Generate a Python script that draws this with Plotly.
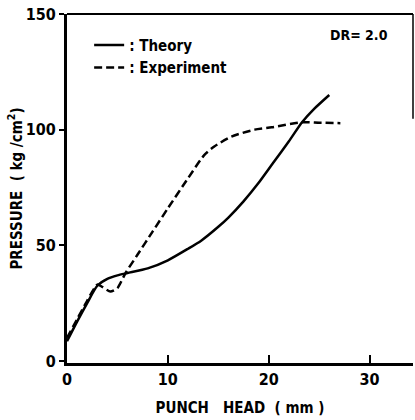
import plotly.graph_objects as go

# Theory (solid)
theory_x = [0, 1, 2, 3, 4, 5, 6, 8, 10, 12, 13.3, 15, 16, 17.5, 19, 20.5, 22, 23.3, 24.5, 26]
theory_y = [8.5, 17, 25, 32.5, 35.5, 37, 38, 40, 43.5, 48.5, 52, 58, 62, 69, 77, 86, 95, 103.2, 109, 115]

# Experiment (dashed)
exp_x = [0, 1, 2, 3, 3.5, 4.3, 5, 5.8, 7, 8.5, 10, 12, 13.6, 14.6, 16.3, 18.6, 20.3, 23.3, 25, 27.1]
exp_y = [10, 18, 26, 33, 32, 30, 31.5, 38, 46, 56, 66, 79, 89, 92.7, 97, 100, 101, 103.2, 103, 102.8]

x_ticks = [0, 10, 20, 30]
y_ticks = [0, 50, 100, 150]

FONT = "DejaVu Sans Condensed, Liberation Sans, sans-serif"

fig = go.Figure()
fig.add_trace(go.Scatter(x=theory_x, y=theory_y, mode="lines", name=": Theory",
                         line=dict(color="black", width=2.5, shape="spline", smoothing=0.6)))
fig.add_trace(go.Scatter(x=exp_x, y=exp_y, mode="lines", name=": Experiment",
                         line=dict(color="black", width=2.5, dash="8px,4px", shape="spline", smoothing=0.6)))

fig.update_layout(
    width=415, height=420,
    margin=dict(l=67, r=2, t=14, b=57),
    plot_bgcolor="white", paper_bgcolor="white",
    font=dict(family=FONT, size=15, color="black", weight="bold"),
    showlegend=True,
    legend=dict(x=0.064, y=0.958, xanchor="left", yanchor="top",
                bgcolor="rgba(0,0,0,0)", font=dict(size=15, family=FONT, weight="bold"),
                tracegroupgap=0),
    xaxis=dict(range=[0, 34.3], tickvals=x_ticks, ticktext=[str(v) for v in x_ticks],
               ticks="inside", ticklen=8, tickwidth=1.5, tickcolor="black",
               showline=True, linewidth=3, linecolor="black", showgrid=False, zeroline=False,
               tickfont=dict(size=16, family=FONT, weight="bold"),
               title=dict(text="PUNCH   HEAD  ( mm )", font=dict(size=15, family=FONT, weight="bold"), standoff=15)),
    yaxis=dict(range=[-0.9, 150], tickvals=y_ticks, ticktext=[str(v) for v in y_ticks],
               ticks="outside", ticklen=5, tickwidth=1.5, tickcolor="black",
               showline=True, linewidth=3, linecolor="black", showgrid=False, zeroline=False,
               tickfont=dict(size=16, family=FONT, weight="bold"),
               title=dict(text="PRESSURE  ( kg /cm<sup>2</sup>)", font=dict(size=15, family=FONT, weight="bold"), standoff=0)),
    shapes=[
        dict(type="line", xref="paper", yref="paper", x0=0, x1=1, y0=1, y1=1,
             line=dict(color="black", width=2)),
        dict(type="line", xref="paper", yref="paper", x0=1, x1=1, y0=0.7, y1=1,
             line=dict(color="black", width=1.5)),
    ],
    annotations=[
        dict(text="DR= 2.0", xref="paper", yref="paper", x=0.755, y=0.94,
             xanchor="left", yanchor="middle", showarrow=False,
             font=dict(size=14, family=FONT, weight="bold")),
    ],
)

fig.write_html("out.html")
